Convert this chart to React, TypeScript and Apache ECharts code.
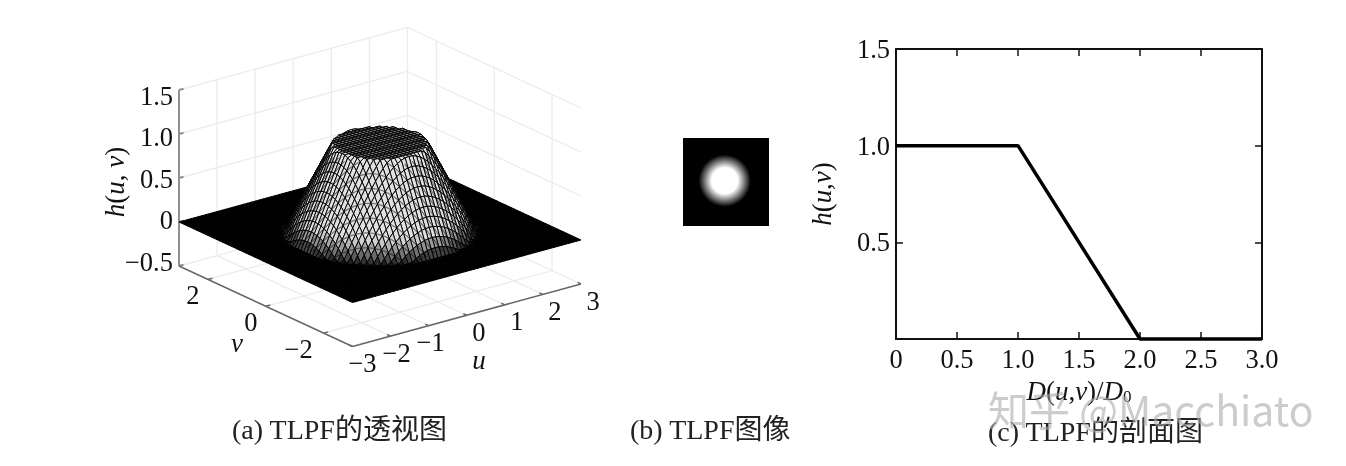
import React, { useEffect, useRef } from "react";
import * as echarts from "echarts";

// Radial profile of the trapezoidal low-pass filter
const profileRadius = [0, 1, 2, 3];
const profileHeight = [1, 1, 0, 0];

// 3D box ticks
const uTicks = [-3, -2, -1, 0, 1, 2, 3];
const vTicks = [-2, 0, 2];
const zTicks = [-0.5, 0, 0.5, 1, 1.5];
const uTickText = ["\u22123", "\u22122", "\u22121", "0", "1", "2", "3"];
const vTickText = ["\u22122", "0", "2"];
const zTickText = ["\u22120.5", "0", "0.5", "1.0", "1.5"];
const meshCells = 60;
// the dark arches across the slope: rows of constant u+v
const archRows = [-2.6, -2.4, -2.2, -2.0, -1.8, -1.6, -1.4, -1.2, -1.0, -0.8, -0.6, -0.4];

const SERIF = '"Liberation Serif","Noto Sans CJK SC",serif';
const FS = 26.5;
const CAP = 28;

const project = (u: number, v: number, z: number): [number, number] => [
  u * 38.08 - v * 28.92,
  u * 10.42 + v * 13.42 + z * 88,
];

const heightAt = (r: number) => {
  for (let i = 0; i < profileRadius.length - 1; i++) {
    if (r <= profileRadius[i + 1]) {
      const t = (r - profileRadius[i]) / (profileRadius[i + 1] - profileRadius[i]);
      return profileHeight[i] + t * (profileHeight[i + 1] - profileHeight[i]);
    }
  }
  return 0;
};

const surfaceH = (u: number, v: number) => heightAt(Math.hypot(u, v));

function buildOption() {
  // back-to-front order: from the far corner (u=3,v=3) to the near one
  const step = 6 / meshCells;
  const cells: number[][] = [];
  for (let i = 0; i < meshCells; i++) {
    for (let j = 0; j < meshCells; j++) {
      cells.push([-3 + i * step, -3 + j * step]);
    }
  }
  cells.sort((a, b) => b[0] + b[1] - (a[0] + a[1]));

  const wall: number[][] = [];
  const zMin = zTicks[0];
  const zMax = zTicks[zTicks.length - 1];
  zTicks.forEach((z) => {
    wall.push([-3, 3, z, 3, 3, z]);
    wall.push([3, 3, z, 3, -3, z]);
  });
  uTicks.slice(1, -1).forEach((u) => {
    wall.push([u, 3, zMin, u, 3, zMax]);
    wall.push([u, -3, zMin, u, 3, zMin]);
  });
  vTicks.forEach((v) => {
    wall.push([3, v, zMin, 3, v, zMax]);
    wall.push([-3, v, zMin, 3, v, zMin]);
  });
  wall.push([3, 3, zMin, 3, 3, zMax]);

  const axes3d: number[][] = [
    [-3, 3, zMin, -3, 3, zMax, 0],
    [-3, -3, zMin, -3, 3, zMin, 1],
    [-3, -3, zMin, 3, -3, zMin, 1],
  ];
  uTicks.forEach((u) => axes3d.push([u, -3, zMin, u, -2.88, zMin, 1]));
  vTicks.forEach((v) => axes3d.push([-3, v, zMin, -2.88, v, zMin, 1]));
  zTicks.forEach((z) => axes3d.push([-3, 3, z, -2.88, 3, z, 0]));

  const seg = (color: string, width: number) => (_p: any, api: any) => {
    const a = api.coord(project(api.value(0), api.value(1), api.value(2)));
    const b = api.coord(project(api.value(3), api.value(4), api.value(5)));
    return {
      type: "line",
      shape: { x1: a[0], y1: a[1], x2: b[0], y2: b[1] },
      style: { stroke: color, lineWidth: width },
      silent: true,
    };
  };

  const labelSeries = (
    values: number[][],
    texts: string[],
    dx: (v: number) => number,
    dy: (v: number) => number,
    key: number,
    align = "center"
  ) => ({
    type: "custom",
    xAxisIndex: 0,
    yAxisIndex: 0,
    silent: true,
    clip: false,
    data: values,
    renderItem: (p: any, api: any) => {
      const a = api.coord(project(api.value(0), api.value(1), api.value(2)));
      const tick = values[p.dataIndex][key];
      return {
        type: "text",
        x: a[0] + dx(tick),
        y: a[1] + dy(tick),
        style: {
          text: texts[p.dataIndex],
          font: `${FS}px ${SERIF}`,
          fill: "#111",
          align,
          verticalAlign: "middle",
        },
      };
    },
  });

  const italic = { fontStyle: "italic", fontFamily: SERIF, fontSize: 27, fill: "#111", color: "#111" };
  const plain = { fontFamily: SERIF, fontSize: 27, fill: "#111", color: "#111" };
  const nameRich = {
    i: italic,
    n: plain,
    s: { fontFamily: SERIF, fontSize: 17, color: "#111", fill: "#111", padding: [12, 0, 0, 0] },
  };

  const cap = (x: number, y: number, text: string) => ({
    type: "text",
    x,
    y,
    z: 20,
    style: { text, font: `${CAP}px ${SERIF}`, fill: "#222", verticalAlign: "middle" },
  });

  const frameAxis = {
    axisLine: { onZero: false, lineStyle: { color: "#111", width: 2 } },
    axisTick: { inside: true, length: 7, lineStyle: { color: "#111", width: 1.5 } },
    splitLine: { show: false },
  };

  const imgX: [number, number] = [-3.2, 3.4];
  const imgY: [number, number] = [-3.4, 3.2];

  return {
    animation: false,
    backgroundColor: "#ffffff",
    grid: [
      { left: 135, top: 20, width: 480, height: 340, show: false },
      { left: 896, top: 49, width: 366, height: 290, show: false },
      { left: 683, top: 138, width: 86, height: 88, show: false },
    ],
    xAxis: [
      { gridIndex: 0, type: "value", min: -245, max: 235, show: false },
      {
        gridIndex: 1,
        type: "value",
        min: 0,
        max: 3,
        interval: 0.5,
        ...frameAxis,
        axisLabel: {
          margin: 7,
          fontFamily: SERIF,
          fontSize: FS,
          color: "#111",
          formatter: (v: number) => (v === 0 ? "0" : v.toFixed(1)),
        },
        name: "{i|D}{n|(}{i|u}{n|,}{i|v}{n|)/}{i|D}{s|0}",
        nameLocation: "middle",
        nameGap: 34,
        nameTextStyle: { rich: nameRich },
      },
      {
        gridIndex: 1,
        type: "value",
        position: "top",
        min: 0,
        max: 3,
        interval: 0.5,
        ...frameAxis,
        axisLabel: { show: false },
      },
      { gridIndex: 2, type: "value", min: imgX[0], max: imgX[1], show: false },
    ],
    yAxis: [
      { gridIndex: 0, type: "value", min: -129, max: 211, show: false },
      {
        gridIndex: 1,
        type: "value",
        min: 0,
        max: 1.5,
        interval: 0.5,
        ...frameAxis,
        axisLabel: {
          margin: 6,
          fontFamily: SERIF,
          fontSize: FS,
          color: "#111",
          formatter: (v: number) => (v === 0 ? "" : v.toFixed(1)),
        },
        name: "{i|h}{n|(}{i|u}{n|,}{i|v}{n|)}",
        nameLocation: "middle",
        nameRotate: 90,
        nameGap: 61,
        nameTextStyle: { rich: nameRich },
      },
      {
        gridIndex: 1,
        type: "value",
        position: "right",
        min: 0,
        max: 1.5,
        interval: 0.5,
        ...frameAxis,
        axisLabel: { show: false },
      },
      { gridIndex: 2, type: "value", min: imgY[0], max: imgY[1], show: false },
    ],
    series: [
      {
        type: "custom",
        xAxisIndex: 0,
        yAxisIndex: 0,
        silent: true,
        clip: false,
        data: wall,
        renderItem: seg("#ececec", 1.3),
      },
      {
        type: "custom",
        xAxisIndex: 0,
        yAxisIndex: 0,
        silent: true,
        clip: false,
        data: axes3d.filter((d) => d[6] === 0),
        renderItem: seg("#909090", 2),
      },
      {
        type: "custom",
        xAxisIndex: 0,
        yAxisIndex: 0,
        silent: true,
        clip: false,
        data: axes3d.filter((d) => d[6] === 1),
        renderItem: seg("#666666", 1.5),
      },
      {
        type: "custom",
        xAxisIndex: 0,
        yAxisIndex: 0,
        silent: true,
        clip: false,
        progressive: 0,
        data: cells,
        renderItem: (_p: any, api: any) => {
          const u = api.value(0);
          const v = api.value(1);
          const corners = [
            [u, v],
            [u + step, v],
            [u + step, v + step],
            [u, v + step],
          ];
          const hs = corners.map((c) => surfaceH(c[0], c[1]));
          const mean = (hs[0] + hs[1] + hs[2] + hs[3]) / 4;
          const g = mean >= 1 ? 130 : mean <= 0 ? 0 : Math.round(225 * Math.min(1, Math.pow(mean / 0.25, 0.7)));
          const pts = corners.map((c, k) => api.coord(project(c[0], c[1], hs[k])));
          return {
            type: "polygon",
            shape: { points: pts },
            style: { fill: `rgb(${g},${g},${g})`, stroke: "#000", lineWidth: 0.95 },
            silent: true,
          };
        },
      },
      {
        type: "custom",
        xAxisIndex: 0,
        yAxisIndex: 0,
        silent: true,
        clip: false,
        data: archRows.map((c) => [c]),
        renderItem: (_p: any, api: any) => {
          const c = api.value(0);
          const left: number[][] = [];
          const right: number[][] = [];
          for (let t = -3; t <= 3.001; t += 0.1) {
            const u = (c + t) / 2;
            const v = (c - t) / 2;
            const r = Math.hypot(u, v);
            if (r < 1.02 || r > 1.98) continue;
            (t < 0 ? left : right).push(api.coord(project(u, v, heightAt(r))));
          }
          const whole = c <= -1.45;
          const shapes = whole ? [[...left, ...right]] : [left, right];
          return {
            type: "group",
            children: shapes
              .filter((p) => p.length > 1)
              .map((p) => ({
                type: "polyline",
                shape: { points: p },
                style: { fill: "none", stroke: "rgba(0,0,0,0.5)", lineWidth: 1.2 },
              })),
          };
        },
      },
      labelSeries(
        uTicks.map((u) => [u, -3, zMin]),
        uTickText,
        (u) => (u < 0 ? 2 + (-1 - u) * 4 : 12),
        () => 16.5,
        0
      ),
      labelSeries(
        vTicks.map((v) => [-3, v, zMin]),
        vTickText,
        (v) => (v < 0 ? -25 : -15),
        () => 16,
        1
      ),
      labelSeries(
        zTicks.map((z) => [-3, 3, z]),
        zTickText,
        () => -6,
        (z) => 5 * (z - 0.4),
        2,
        "right"
      ),
      {
        type: "line",
        xAxisIndex: 1,
        yAxisIndex: 1,
        data: profileRadius.map((r, i) => [r, profileHeight[i]]),
        symbol: "none",
        silent: true,
        clip: false,
        lineStyle: { color: "#000", width: 3.5 },
      },
      {
        type: "custom",
        xAxisIndex: 3,
        yAxisIndex: 3,
        silent: true,
        clip: false,
        data: [[0, 0]],
        renderItem: (_p: any, api: any) => {
          const tl = api.coord([imgX[0], imgY[1]]);
          const br = api.coord([imgX[1], imgY[0]]);
          const c = api.coord([api.value(0), api.value(1)]);
          const edge = profileRadius[2];
          const rp = api.coord([edge, 0])[0] - c[0];
          const stops = profileRadius
            .filter((r) => r <= edge)
            .map((r, i) => {
              const g = Math.round(255 * profileHeight[i]);
              return { offset: r / edge, color: `rgb(${g},${g},${g})` };
            });
          return {
            type: "group",
            children: [
              {
                type: "rect",
                shape: { x: tl[0], y: tl[1], width: br[0] - tl[0], height: br[1] - tl[1] },
                style: { fill: "#000" },
              },
              {
                type: "circle",
                shape: { cx: c[0], cy: c[1], r: rp },
                style: { fill: new echarts.graphic.RadialGradient(0.5, 0.5, 0.5, stops) },
              },
            ],
          };
        },
      },
    ],
    graphic: [
      {
        type: "text",
        x: 115,
        y: 182,
        rotation: Math.PI / 2,
        z: 20,
        style: {
          text: "{i|h}{n|(}{i|u}{n|, }{i|v}{n|)}",
          rich: { i: italic, n: plain },
          align: "center",
          verticalAlign: "middle",
        },
      },
      {
        type: "text",
        x: 479,
        y: 360,
        z: 20,
        style: { text: "u", font: `italic 27px ${SERIF}`, fill: "#111", align: "center", verticalAlign: "middle" },
      },
      {
        type: "text",
        x: 237,
        y: 343,
        z: 20,
        style: { text: "v", font: `italic 27px ${SERIF}`, fill: "#111", align: "center", verticalAlign: "middle" },
      },
      cap(232, 429, "(a) TLPF的透视图"),
      cap(630, 429, "(b) TLPF图像"),
      cap(988, 431, "(c) TLPF的剖面图"),
      {
        type: "text",
        x: 988,
        y: 408,
        z: 30,
        style: {
          text: "知乎 @Macchiato",
          font: '41px "Noto Sans CJK SC","Noto Sans",sans-serif',
          fill: "rgba(170,170,170,0.6)",
          verticalAlign: "middle",
        },
      },
    ],
  };
}

export default function App() {
  const ref = useRef<HTMLDivElement>(null);
  useEffect(() => {
    const chart = echarts.init(ref.current!, undefined, { renderer: "svg" });
    chart.setOption(buildOption() as any);
    return () => chart.dispose();
  }, []);
  return (
    <div
      ref={ref}
      style={{ position: "absolute", left: 0, top: 0, width: 1346, height: 466, filter: "blur(0.5px)" }}
    />
  );
}
